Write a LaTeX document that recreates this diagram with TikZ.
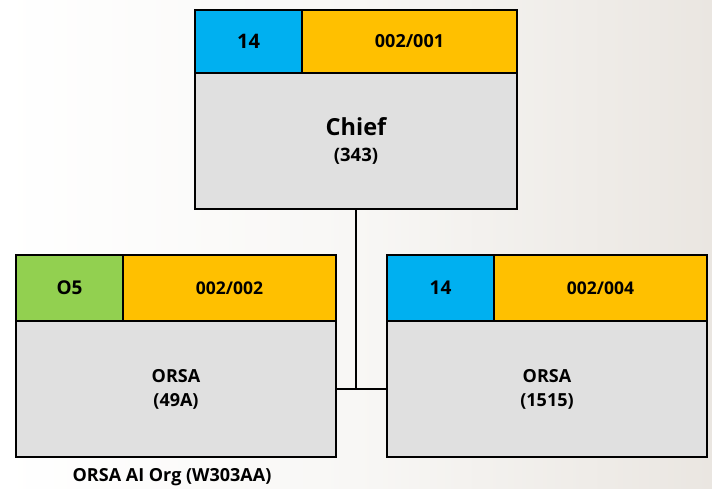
\documentclass[tikz,border=0pt]{standalone}
\usepackage{fontspec}
\setmainfont{Open Sans}
\definecolor{cblue}{HTML}{00B0F0}
\definecolor{corange}{HTML}{FFC000}
\definecolor{cgreen}{HTML}{92D050}
\definecolor{cgray}{HTML}{E0E0E0}
\definecolor{bgdark}{HTML}{EAE6E1}
\definecolor{bgmid}{HTML}{F8F7F5}
\tikzset{
  cell/.style={draw=black, line width=1.6pt, inner sep=0pt, outer sep=0pt, anchor=north west, align=center},
  bandtxt/.style={font=\bfseries\fontsize{17.5}{22}\selectfont},
  codetxt/.style={font=\bfseries\fontsize{19}{24}\selectfont},
  bodytxt/.style={font=\bfseries\fontsize{18}{24}\selectfont},
  link/.style={draw=black, line width=1.6pt},
}
\begin{document}
\begin{tikzpicture}[x=1pt,y=-1pt]
\useasboundingbox (0,0) rectangle (712,489);
\shade[left color=white, right color=bgdark, middle color=bgmid] (0,0) rectangle (712,489);
% top box
\node[cell, fill=cblue, minimum width=107pt, minimum height=63pt, font=\bfseries\fontsize{20}{24}\selectfont] (tA) at (195,10) {14};
\node[cell, fill=corange, minimum width=215pt, minimum height=63pt, font=\bfseries\fontsize{18}{22}\selectfont] (tB) at (302,10) {002/001};
\node[cell, fill=cgray, minimum width=322pt, minimum height=136pt, font=\bfseries\fontsize{18.5}{26}\selectfont] (chief) at (195,73) {{\fontsize{23.5}{26}\selectfont Chief}\\(343)};
% left box
\node[cell, fill=cgreen, minimum width=107pt, minimum height=66pt, codetxt] (lA) at (16,255) {O5};
\node[cell, fill=corange, minimum width=213pt, minimum height=66pt, bandtxt] (lB) at (123,255) {002/002};
\node[cell, fill=cgray, minimum width=320pt, minimum height=136pt, bodytxt] (orsaL) at (16,321) {ORSA\\(49A)};
% right box
\node[cell, fill=cblue, minimum width=107pt, minimum height=66pt, codetxt] (rA) at (387,255) {14};
\node[cell, fill=corange, minimum width=213pt, minimum height=66pt, bandtxt] (rB) at (494,255) {002/004};
\node[cell, fill=cgray, minimum width=320pt, minimum height=136pt, bodytxt] (orsaR) at (387,321) {ORSA\\(1515)};
% label
\node[font=\bfseries\fontsize{18}{22}\selectfont] (org) at (172,477) {ORSA AI Org (W303AA)};
% connectors
\draw[link] (orsaL.east) -- (orsaR.west);
\draw[link] (chief.south) -- (chief.south |- orsaL.east);
\end{tikzpicture}
\end{document}
